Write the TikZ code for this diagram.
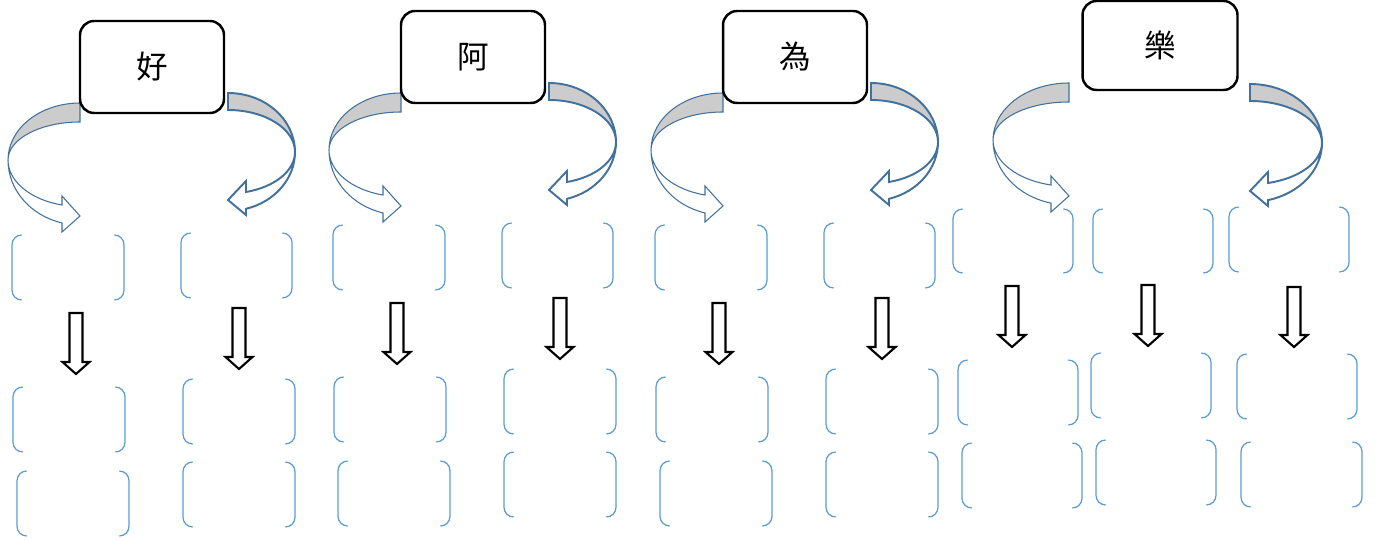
\documentclass[tikz,border=0pt]{standalone}
\usepackage{fontspec}
\newfontfamily\cjk{Noto Sans CJK TC}
\usepackage{tikz}
\usetikzlibrary{fit}

\definecolor{bendblue}{RGB}{65,113,156}
\definecolor{slotblue}{RGB}{91,155,213}

\tikzset{
  wordbox/.style={draw=black,line width=1.4pt,rounded corners=8pt,fill=white,inner sep=0pt,
    font=\cjk\fontsize{18}{20}\selectfont},
  slotarea/.style={inner sep=0pt,outer sep=0pt},
  slotline/.style={draw=slotblue,line width=0.7pt,rounded corners=5.5pt},
  bendthin/.style={draw=bendblue,line width=0.6pt},
  bendthick/.style={draw=bendblue,line width=1.1pt},
  blockarrow/.style={draw=black,line width=1.2pt,fill=white,line join=miter}
}

% bracket pair: name, top left corner, bottom right corner
\newcommand{\slot}[5]{%
  \node[slotarea,fit={(#2,#3) (#4,#5)}] (#1) {};
  \draw[slotline] ([xshift=5.5pt]#1.north west) -- (#1.north west) -- (#1.south west) -- ([xshift=5.5pt]#1.south west);
  \draw[slotline] ([xshift=-5.5pt]#1.north east) -- (#1.north east) -- (#1.south east) -- ([xshift=-5.5pt]#1.south east);
}
% hollow down arrow: x, top, tip
\newcommand{\downblock}[3]{%
  \draw[blockarrow] (#1-6.5,#2) -- (#1+6.5,#2) -- (#1+6.5,#3-12) -- (#1+13.5,#3-12) -- (#1,#3)
    -- (#1-13.5,#3-12) -- (#1-6.5,#3-12) -- cycle;
}
% curved arrows: box edge x, centre y, x radius
\newcommand{\bendleft}[3]{%
  \pgfmathsetmacro{\bendang}{acos(-18/#3)}
  \draw[bendthin,fill=gray!40] (#1,#2-57) arc[start angle=270,end angle=180,x radius=#3,y radius=57]
    arc[start angle=180,end angle=270,x radius=#3,y radius=38] -- cycle;
  \draw[bendthin,fill=white] (#1-#3,#2) arc[start angle=180,end angle=\bendang,x radius=#3,y radius=65]
    -- (#1-18,#2+72) -- (#1,#2+56) -- (#1-18,#2+36) -- (#1-18,#2+45)
    arc[start angle=\bendang,end angle=180,x radius=#3,y radius=46.5] -- cycle;
}
\newcommand{\bendright}[3]{%
  \pgfmathsetmacro{\bendang}{acos(18/#3)}
  \draw[bendthick,fill=gray!40] (#1,#2-59) arc[start angle=270,end angle=360,x radius=#3,y radius=59]
    arc[start angle=0,end angle=-90,x radius=#3,y radius=42] -- cycle;
  \draw[bendthick,fill=white] (#1+#3,#2) arc[start angle=0,end angle=\bendang,x radius=#3,y radius=59]
    -- (#1+18,#2+63) -- (#1,#2+48) -- (#1+18,#2+29) -- (#1+18,#2+40)
    arc[start angle=\bendang,end angle=0,x radius=#3,y radius=41.5] -- cycle;
}

\begin{document}
\begin{tikzpicture}[x=0.02cm,y=-0.02cm]
  \useasboundingbox (0,0) rectangle (1383,540);
  % three groups with two columns
  \foreach \gx/\gy/\ch/\nm in {-321/10/好/hao,0/0/阿/a,322/0/為/wei}{
    \begin{scope}[shift={(\gx,\gy)}]
      \bendleft{401}{150}{72}
      \bendright{549}{142}{67}
      \node[wordbox,minimum width=2.88cm,minimum height=1.84cm] (box\nm) at (473,57) {\ch};
      \slot{\nm-a1}{333}{225}{445}{290}
      \slot{\nm-b1}{502}{223}{613}{288}
      \downblock{397}{303}{364}
      \downblock{560}{298}{359}
      \slot{\nm-a2}{334}{377}{446}{442}
      \slot{\nm-b2}{504}{369}{616}{434}
      \slot{\nm-a3}{338}{461}{450}{526}
      \slot{\nm-b3}{504}{452}{616}{517}
    \end{scope}
  }
  % last group with three columns
  \bendleft{1069}{140}{76}
  \bendright{1250}{143}{72}
  \node[wordbox,minimum width=3.1cm,minimum height=1.78cm] (boxle) at (1160,45.5) {樂};
  \slot{le-a1}{953}{209}{1073}{273}
  \slot{le-b1}{1093}{209}{1213}{273}
  \slot{le-c1}{1229}{207}{1349}{272}
  \downblock{1012}{286}{347}
  \downblock{1148}{285}{346}
  \downblock{1294}{287}{347}
  \slot{le-a2}{958}{360}{1078}{425}
  \slot{le-b2}{1091}{353}{1211}{418}
  \slot{le-c2}{1237}{354}{1357}{419}
  \slot{le-a3}{962}{443}{1082}{508}
  \slot{le-b3}{1096}{440}{1216}{505}
  \slot{le-c3}{1241}{442}{1362}{507}
\end{tikzpicture}
\end{document}
